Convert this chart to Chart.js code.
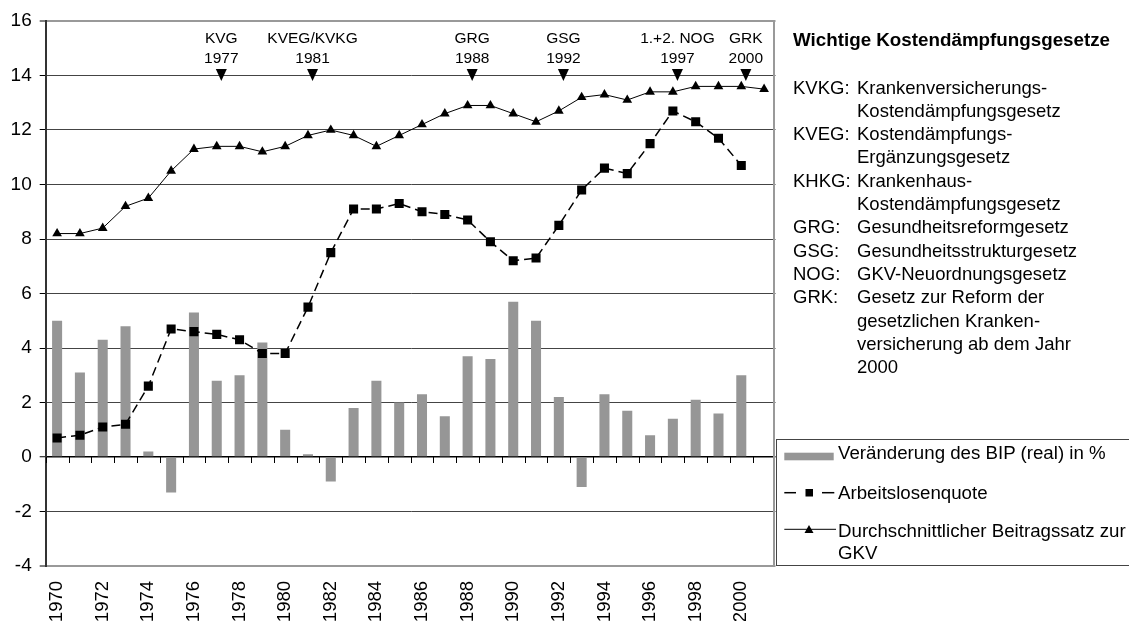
<!DOCTYPE html>
<html lang="de">
<head>
<meta charset="utf-8">
<title>Beitragssatz, Arbeitslosigkeit und BIP</title>
<script src="https://cdn.jsdelivr.net/npm/chart.js@4.4.1/dist/chart.umd.min.js"></script>
<style>
    body { margin: 0; background: #fff; }
    #wrap { position: relative; width: 1129px; height: 621px; overflow: hidden; font-family: "Liberation Sans", Arial, sans-serif; color: #000; }
    #chart { position: absolute; left: 0; top: 0; }
    .notes { position: absolute; left: 793px; font-size: 18.5px; line-height: 23.3px; white-space: nowrap; }
    .notes .row { position: relative; height: 23.3px; }
    .notes .ab { position: absolute; left: 0; }
    .notes .tx { position: absolute; left: 64px; }
    #title { top: 27.6px; font-weight: bold; font-size: 18.8px; }
    #legend { position: absolute; left: 776px; top: 439px; width: 353px; height: 127px; box-sizing: border-box; border: 1px solid #444; border-right: none; font-size: 18.7px; white-space: nowrap; }
    #legend svg { position: absolute; left: 0; top: 0; }
    #legend .item { position: absolute; left: 61px; line-height: 22.5px; }
</style>
</head>
<body>
<div id="wrap">
    <canvas id="chart" width="1129" height="621"></canvas>

    <div class="notes" id="title">Wichtige Kostendämpfungsgesetze</div>
    <div class="notes" style="top:75.6px">
        <div class="row"><span class="ab">KVKG:</span><span class="tx">Krankenversicherungs-</span></div>
        <div class="row"><span class="tx">Kostendämpfungsgesetz</span></div>
        <div class="row"><span class="ab">KVEG:</span><span class="tx">Kostendämpfungs-</span></div>
        <div class="row"><span class="tx">Ergänzungsgesetz</span></div>
        <div class="row"><span class="ab">KHKG:</span><span class="tx">Krankenhaus-</span></div>
        <div class="row"><span class="tx">Kostendämpfungsgesetz</span></div>
        <div class="row"><span class="ab">GRG:</span><span class="tx">Gesundheitsreformgesetz</span></div>
        <div class="row"><span class="ab">GSG:</span><span class="tx">Gesundheitsstrukturgesetz</span></div>
        <div class="row"><span class="ab">NOG:</span><span class="tx">GKV-Neuordnungsgesetz</span></div>
        <div class="row"><span class="ab">GRK:</span><span class="tx">Gesetz zur Reform der</span></div>
        <div class="row"><span class="tx">gesetzlichen Kranken-</span></div>
        <div class="row"><span class="tx">versicherung ab dem Jahr</span></div>
        <div class="row"><span class="tx">2000</span></div>
    </div>

    <div id="legend">
        <svg width="353" height="127">
            <rect x="7.3" y="12.7" width="49.4" height="7.6" fill="#969696"></rect>
            <line x1="7.3" y1="52.7" x2="19" y2="52.7" stroke="#000" stroke-width="1.5"></line>
            <rect x="28.5" y="49" width="7.5" height="7.5" fill="#000"></rect>
            <line x1="45" y1="52.7" x2="57.3" y2="52.7" stroke="#000" stroke-width="1.5"></line>
            <line x1="7.3" y1="89.3" x2="59" y2="89.3" stroke="#000" stroke-width="1"></line>
            <polygon points="27.5,93 36.5,93 32,85" fill="#000"></polygon>
        </svg>
        <div class="item" style="top:2px">Veränderung des BIP (real) in %</div>
        <div class="item" style="top:41.5px">Arbeitslosenquote</div>
        <div class="item" style="top:79.5px">Durchschnittlicher Beitragssatz zur<br>GKV</div>
    </div>
</div>

<script>
const years = ['1970', '1971', '1972', '1973', '1974', '1975', '1976', '1977', '1978', '1979',
    '1980', '1981', '1982', '1983', '1984', '1985', '1986', '1987', '1988', '1989',
    '1990', '1991', '1992', '1993', '1994', '1995', '1996', '1997', '1998', '1999',
    '2000', '2001'];

// Veränderung des BIP (real) in %
const bipChange = [5.0, 3.1, 4.3, 4.8, 0.2, -1.3, 5.3, 2.8, 3.0, 4.2,
    1.0, 0.1, -0.9, 1.8, 2.8, 2.0, 2.3, 1.5, 3.7, 3.6,
    5.7, 5.0, 2.2, -1.1, 2.3, 1.7, 0.8, 1.4, 2.1, 1.6,
    3.0, null];

// Arbeitslosenquote
const unemployment = [0.7, 0.8, 1.1, 1.2, 2.6, 4.7, 4.6, 4.5, 4.3, 3.8,
    3.8, 5.5, 7.5, 9.1, 9.1, 9.3, 9.0, 8.9, 8.7, 7.9,
    7.2, 7.3, 8.5, 9.8, 10.6, 10.4, 11.5, 12.7, 12.3, 11.7,
    10.7, null];

// Durchschnittlicher Beitragssatz zur GKV
const contributionRate = [8.2, 8.2, 8.4, 9.2, 9.5, 10.5, 11.3, 11.4, 11.4, 11.2,
    11.4, 11.8, 12.0, 11.8, 11.4, 11.8, 12.2, 12.6, 12.9, 12.9,
    12.6, 12.3, 12.7, 13.2, 13.3, 13.1, 13.4, 13.4, 13.6, 13.6,
    13.6, 13.5];

// Kostendämpfungsgesetze (Markierungen oben im Diagramm)
const lawNames = ['KVG', 'KVEG/KVKG', 'GRG', 'GSG', '1.+2. NOG', 'GRK'];
const lawYears = ['1977', '1981', '1988', '1992', '1997', '2000'];

const yTicks = [-4, -2, 0, 2, 4, 6, 8, 10, 12, 14, 16];

const fontFamily = '"Liberation Sans", Arial, sans-serif';

// Frame on the right, tick marks on the zero line and the law markers
const lawMarkers = {
    id: 'lawMarkers',
    afterDraw(chart) {
        const {ctx, chartArea, scales} = chart;
        const x = scales.x;
        const y = scales.y;
        const step = x.getPixelForValue(1) - x.getPixelForValue(0);
        const base = y.getPixelForValue(14);
        const zero = y.getPixelForValue(0);

        ctx.save();
        ctx.strokeStyle = '#999';
        ctx.lineWidth = 2;
        ctx.beginPath();
        ctx.moveTo(chartArea.right - 1.5, chartArea.top);
        ctx.lineTo(chartArea.right - 1.5, chartArea.bottom);
        ctx.stroke();

        // small ticks between the years, below the zero line
        ctx.strokeStyle = '#000';
        ctx.lineWidth = 1;
        ctx.beginPath();
        for (let i = 0; i <= years.length; i++) {
            const tx = Math.round(x.getPixelForValue(i) - step / 2) + 0.5;
            ctx.moveTo(tx, zero);
            ctx.lineTo(tx, zero + 6);
        }
        ctx.stroke();

        ctx.fillStyle = '#000';
        ctx.font = '15.5px ' + fontFamily;
        ctx.textAlign = 'center';
        ctx.textBaseline = 'middle';
        lawNames.forEach((name, i) => {
            const px = x.getPixelForValue(years.indexOf(lawYears[i])) + step * 0.2;
            ctx.fillText(name, px, base - 37);
            ctx.fillText(lawYears[i], px, base - 17);
            ctx.beginPath();
            ctx.moveTo(px - 5.5, base - 6.5);
            ctx.lineTo(px + 5.5, base - 6.5);
            ctx.lineTo(px, base + 5.5);
            ctx.closePath();
            ctx.fill();
        });
        ctx.restore();
    }
};

function gridColor(context) {
    const v = context.tick ? context.tick.value : null;
    if (v === 0) return '#000';
    if (v === 16 || v === -4) return '#999';
    return '#444';
}

function gridWidth(context) {
    const v = context.tick ? context.tick.value : null;
    if (v === 0) return 1.5;
    if (v === 16 || v === -4) return 2;
    return 1;
}

const ctx = document.getElementById('chart').getContext('2d');
const mainChart = new Chart(ctx, {
    type: 'bar',
    data: {
        labels: years,
        datasets: [
            {
                type: 'line',
                label: 'Durchschnittlicher Beitragssatz zur GKV',
                data: contributionRate,
                borderColor: '#000',
                backgroundColor: '#000',
                borderWidth: 1,
                pointStyle: 'triangle',
                pointRadius: 5.6,
                pointBorderWidth: 0,
                tension: 0,
                order: 1
            },
            {
                type: 'line',
                label: 'Arbeitslosenquote',
                data: unemployment,
                borderColor: '#000',
                backgroundColor: '#000',
                borderWidth: 1.5,
                borderDash: [9, 5],
                pointStyle: 'rect',
                pointRadius: 6.4,
                pointBorderWidth: 0,
                tension: 0,
                order: 2
            },
            {
                type: 'bar',
                label: 'Veränderung des BIP (real) in %',
                data: bipChange,
                backgroundColor: '#969696',
                borderWidth: 0,
                categoryPercentage: 1,
                barPercentage: 0.44,
                order: 3
            }
        ]
    },
    options: {
        responsive: false,
        animation: false,
        layout: {
            padding: {left: 0, top: 21, right: 353.5, bottom: 0}
        },
        plugins: {
            legend: {display: false},
            tooltip: {enabled: false}
        },
        scales: {
            x: {
                afterFit(scale) { scale.height = 55; },
                grid: {display: false, drawTicks: false},
                border: {display: false},
                ticks: {
                    autoSkip: false,
                    minRotation: 90,
                    maxRotation: 90,
                    padding: 15,
                    color: '#000',
                    font: {family: fontFamily, size: 18.5},
                    callback: (v, i) => (i % 2 === 0 ? years[i] : '')
                }
            },
            y: {
                min: -4,
                max: 16,
                afterFit(scale) { scale.width = 45.7; },
                afterBuildTicks(scale) { scale.ticks = yTicks.map(v => ({value: v})); },
                ticks: {
                    color: '#000',
                    padding: 8,
                    font: {family: fontFamily, size: 19}
                },
                grid: {
                    color: gridColor,
                    lineWidth: gridWidth,
                    tickColor: '#000',
                    tickWidth: 1,
                    tickLength: 6
                },
                border: {color: '#333', width: 2}
            }
        }
    },
    plugins: [lawMarkers]
});
</script>
</body>
</html>
